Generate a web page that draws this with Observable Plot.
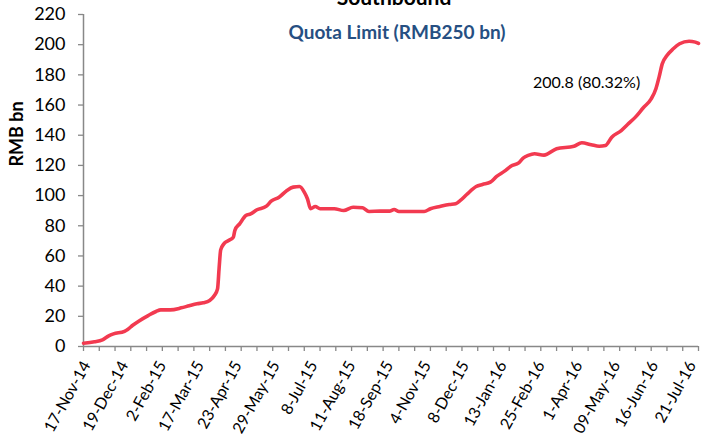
<!DOCTYPE html>
<html><head><meta charset="utf-8">
<script src="https://cdn.jsdelivr.net/npm/d3@7"></script>
<script src="https://cdn.jsdelivr.net/npm/@observablehq/plot@0.6"></script>
<style>
body{margin:0;background:#fff;}
#chart svg{font-family:Lato,"Open Sans",sans-serif;overflow:hidden;}
</style>
</head><body><div id="chart"></div>
<script>
// trading-day index (0 = 17-Nov-14) and cumulative Southbound usage (RMB bn)
const dayIndex = [0,7,12,16,19,26,28,31,35,41,46,49,55,62,67,72,76,80,83,85,86,87,89,92,95,96,99,103,106,110,116,119,124,129,133,137,140,142,144,147,150,159,165,171,177,181,188,194,197,200,208,216,220,226,232,236,239,243,249,253,258,262,267,271,276,279,282,286,292,300,311,316,322,327,331,335,341,345,350,355,360,363,365,367,370,374,378,384,388,390];
const quotaUsed = [2.2,3.1,4.4,7.1,8.4,10.1,11.3,13.9,16.8,20.5,23.2,24.3,24.3,25.6,27.0,28.3,29.0,30.5,33.8,38.2,52,64,68,70.2,72.4,77,81.3,86.8,87.9,90.6,93,96.3,98.9,103.4,105.6,106,102.3,97.9,91.3,92.8,91.3,91.3,90.1,92.3,91.9,89.5,89.7,89.7,90.8,89.5,89.5,89.5,91.3,92.8,94.1,94.6,96.8,100.7,106,107.4,108.9,112.7,116.2,119.5,121.7,125,126.6,127.7,126.8,131,132.7,135,133.7,132.7,133.2,138.7,143.1,147.1,152,158.2,164.1,170.8,178.5,187.3,192.8,197.3,200.6,202.3,201.7,200.8];
const tickLabels = ["17-Nov-14","19-Dec-14","2-Feb-15","17-Mar-15","23-Apr-15","29-May-15","8-Jul-15","11-Aug-15","18-Sep-15","4-Nov-15","8-Dec-15","13-Jan-16","25-Feb-16","1-Apr-16","09-May-16","16-Jun-16","21-Jul-16"];
const labelStep = 24;     // trading days between date labels
const minorStep = 10;     // trading days between tick marks
const lastIndex = 390;
const yTicks = [0,20,40,60,80,100,120,140,160,180,200,220];
const quotaLimit = 250;
const title = "Southbound";
const subtitle = "Quota Limit (RMB250 bn)";
const yLabel = "RMB bn";
const annotationAt = {x: 285, y: 174.5};

const data = dayIndex.map((d, i) => ({x: d, y: quotaUsed[i]}));
const last = quotaUsed[quotaUsed.length - 1];
const annotationText = `${last.toFixed(1)} (${(last / quotaLimit * 100).toFixed(2)}%)`;
const labelIdx = tickLabels.map((_, i) => i * labelStep);
const minorIdx = d3.range(0, lastIndex + 1, minorStep);

const chart = Plot.plot({
  width: 707,
  height: 438,
  marginLeft: 83,
  marginRight: 9,
  marginTop: 14,
  marginBottom: 92,
  style: {color: "#000", background: "#fff"},
  x: {type: "linear", domain: [0, lastIndex]},
  y: {domain: [0, 220]},
  marks: [
    Plot.axisY({ticks: yTicks, tickSize: 5, tickPadding: 13, fontSize: 18, stroke: "#888", strokeWidth: 1.3, label: null, tickFormat: d => d}),
    Plot.axisX(minorIdx, {tickSize: 5, stroke: "#888", strokeWidth: 1.3, tickFormat: () => "", label: null}),
    Plot.axisX(labelIdx, {tickSize: 0, tickPadding: 16, tickRotate: -61, fontSize: 16, dx: 3, tickFormat: d => tickLabels[d / labelStep], label: null}),
    Plot.ruleX([0], {stroke: "#888", strokeWidth: 1.5}),
    Plot.ruleY([0], {stroke: "#888", strokeWidth: 1.5}),
    Plot.line(data, {x: "x", y: "y", stroke: "#F23A50", strokeWidth: 3.6, curve: "monotone-x"}),
    Plot.text([annotationText], {x: annotationAt.x, y: annotationAt.y, text: d => d, textAnchor: "start", fontSize: 16, fill: "#000"}),
    Plot.text([title], {frameAnchor: "top", text: d => d, dy: -10, dx: 3, lineAnchor: "bottom", fontSize: 21, fontWeight: "bold", fill: "#000"}),
    Plot.text([subtitle], {frameAnchor: "top", text: d => d, dy: 24, dx: 6, lineAnchor: "bottom", fontSize: 19, fontWeight: "bold", fill: "#264F82"}),
    Plot.text([yLabel], {frameAnchor: "left", text: d => d, rotate: -90, dx: -66, dy: -14, fontSize: 18, fontWeight: "bold", fill: "#000"})
  ]
});
document.getElementById("chart").append(chart);
</script>
</body></html>
